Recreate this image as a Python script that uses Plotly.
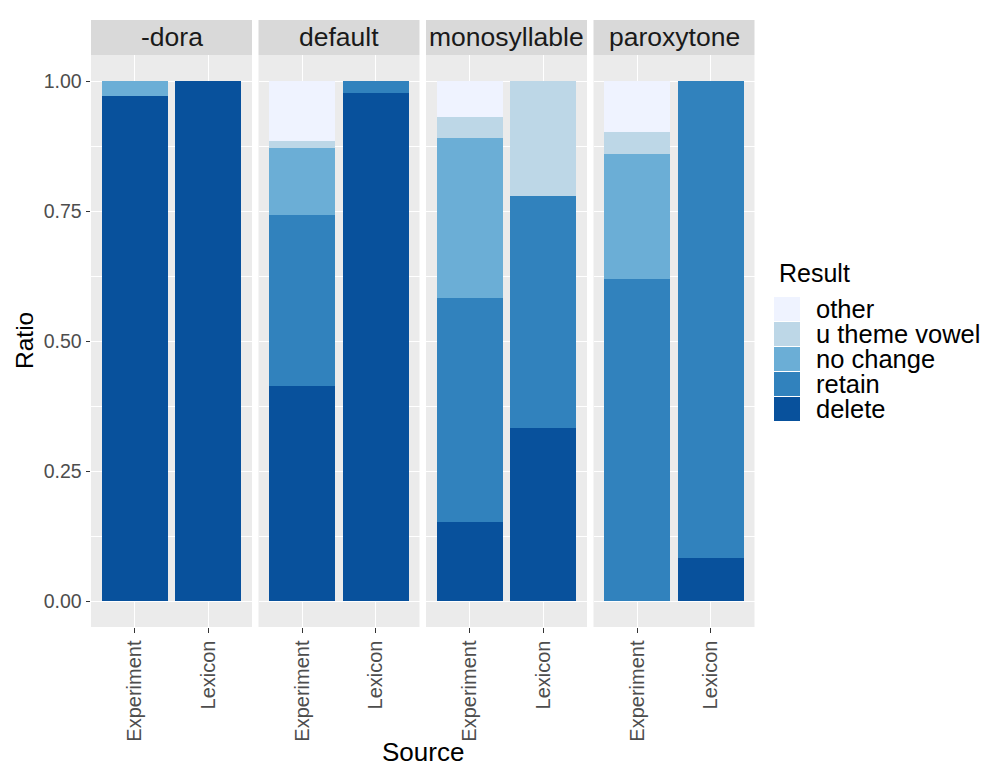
import plotly.graph_objects as go

# Facets, x categories and stacked result levels (bottom to top)
panels = ["-dora", "default", "monosyllable", "paroxytone"]
sources = ["Experiment", "Lexicon"]
results = ["delete", "retain", "no change", "u theme vowel", "other"]
colors = ["#08519c", "#3182bd", "#6baed6", "#bdd7e7", "#eff3ff"]

# Ratio of each result, one [Experiment, Lexicon] pair per panel
delete_ratio = [[0.972, 1.000], [0.414, 0.976], [0.152, 0.333], [0.000, 0.083]]
retain_ratio = [[0.000, 0.000], [0.328, 0.024], [0.431, 0.445], [0.620, 0.917]]
no_change_ratio = [[0.028, 0.000], [0.130, 0.000], [0.307, 0.000], [0.239, 0.000]]
u_theme_ratio = [[0.000, 0.000], [0.013, 0.000], [0.040, 0.222], [0.042, 0.000]]
other_ratio = [[0.000, 0.000], [0.115, 0.000], [0.070, 0.000], [0.099, 0.000]]

y_ticks = [0, 0.25, 0.5, 0.75, 1.0]
y_ticktext = ["0.00", "0.25", "0.50", "0.75", "1.00"]

series = [delete_ratio, retain_ratio, no_change_ratio, u_theme_ratio, other_ratio]

W, H = 987, 766
FONT = "Liberation Sans, Arial, Helvetica, sans-serif"
PANEL_LEFT, PANEL_W, PANEL_STEP = 91, 161, 167.5
PANEL_TOP, PANEL_BOTTOM = 55, 627
STRIP_TOP = 20


def px_x(v):
    return v / W


def px_y(v):
    return 1 - v / H


fig = go.Figure()
layout = dict(
    width=W, height=H,
    margin=dict(l=0, r=0, t=0, b=0),
    paper_bgcolor="white",
    plot_bgcolor="#EBEBEB",
    barmode="stack",
    bargap=0.1,
    showlegend=False,
    font=dict(family=FONT, color="#1A1A1A"),
    shapes=[],
    annotations=[],
)

for i, panel in enumerate(panels):
    sfx = "" if i == 0 else str(i + 1)
    x0 = PANEL_LEFT + i * PANEL_STEP
    x1 = x0 + PANEL_W
    for name, color, data in zip(results, colors, series):
        fig.add_trace(go.Bar(
            x=sources, y=data[i], name=name,
            marker=dict(color=color, line=dict(width=0)),
            xaxis="x" + sfx, yaxis="y" + sfx,
            hovertemplate=f"{panel}<br>%{{x}}<br>{name}: %{{y:.3f}}<extra></extra>",
        ))
    layout["xaxis" + sfx] = dict(
        domain=[px_x(x0), px_x(x1)],
        anchor="y" + sfx,
        type="category",
        categoryorder="array", categoryarray=sources,
        range=[-0.6, 1.6],
        showgrid=True, gridcolor="white", gridwidth=1.2,
        zeroline=False, showline=False,
        ticks="outside", ticklen=4.5, tickwidth=1, tickcolor="#333333",
        tickangle=-90,
        tickfont=dict(size=20, color="#4D4D4D", family=FONT),
    )
    layout["yaxis" + sfx] = dict(
        domain=[px_y(PANEL_BOTTOM), px_y(PANEL_TOP)],
        anchor="x" + sfx,
        range=[-0.05, 1.05],
        tickvals=y_ticks, ticktext=y_ticktext,
        showticklabels=(i == 0),
        ticks="outside" if i == 0 else "",
        ticklen=4.5, tickwidth=1, tickcolor="#333333",
        tickfont=dict(size=19.5, color="#4D4D4D", family=FONT),
        showgrid=True, gridcolor="white", gridwidth=1.2,
        minor=dict(tickvals=[0.125, 0.375, 0.625, 0.875], showgrid=True,
                   gridcolor="white", gridwidth=0.6, ticks=""),
        zeroline=False, showline=False,
    )
    # facet strip
    layout["shapes"].append(dict(
        type="rect", xref="paper", yref="paper",
        x0=px_x(x0), x1=px_x(x1), y0=px_y(PANEL_TOP), y1=px_y(STRIP_TOP),
        fillcolor="#D9D9D9", line=dict(width=0), layer="below",
    ))
    layout["annotations"].append(dict(
        text=panel, xref="paper", yref="paper",
        x=px_x((x0 + x1) / 2), y=px_y((STRIP_TOP + PANEL_TOP) / 2),
        xanchor="center", yanchor="middle", showarrow=False,
        font=dict(size=26.5, color="#1A1A1A", family=FONT),
    ))

# axis titles
layout["annotations"].append(dict(
    text="Ratio", xref="paper", yref="paper",
    x=px_x(24), y=px_y((PANEL_TOP + PANEL_BOTTOM) / 2),
    xanchor="center", yanchor="middle", textangle=-90, showarrow=False,
    font=dict(size=24.5, color="black", family=FONT),
))
layout["annotations"].append(dict(
    text="Source", xref="paper", yref="paper",
    x=px_x(PANEL_LEFT + (3 * PANEL_STEP + PANEL_W) / 2), y=px_y(752),
    xanchor="center", yanchor="middle", showarrow=False,
    font=dict(size=26, color="black", family=FONT),
))

# legend: title plus keys, top entry is the top of the stack
layout["annotations"].append(dict(
    text="Result", xref="paper", yref="paper",
    x=px_x(777), y=px_y(273),
    xanchor="left", yanchor="middle", showarrow=False,
    font=dict(size=25, color="black", family=FONT),
))
KEY_TOP, KEY_STEP, KEY_H = 297, 25, 24
for j, (name, color) in enumerate(reversed(list(zip(results, colors)))):
    top = KEY_TOP + j * KEY_STEP
    layout["shapes"].append(dict(
        type="rect", xref="paper", yref="paper",
        x0=px_x(774), x1=px_x(800), y0=px_y(top + KEY_H), y1=px_y(top),
        fillcolor=color, line=dict(width=0),
    ))
    layout["annotations"].append(dict(
        text=name, xref="paper", yref="paper",
        x=px_x(814), y=px_y(top + KEY_H / 2),
        xanchor="left", yanchor="middle", showarrow=False,
        font=dict(size=25.5, color="black", family=FONT),
    ))

fig.update_layout(**layout)
fig.write_html("out.html")
